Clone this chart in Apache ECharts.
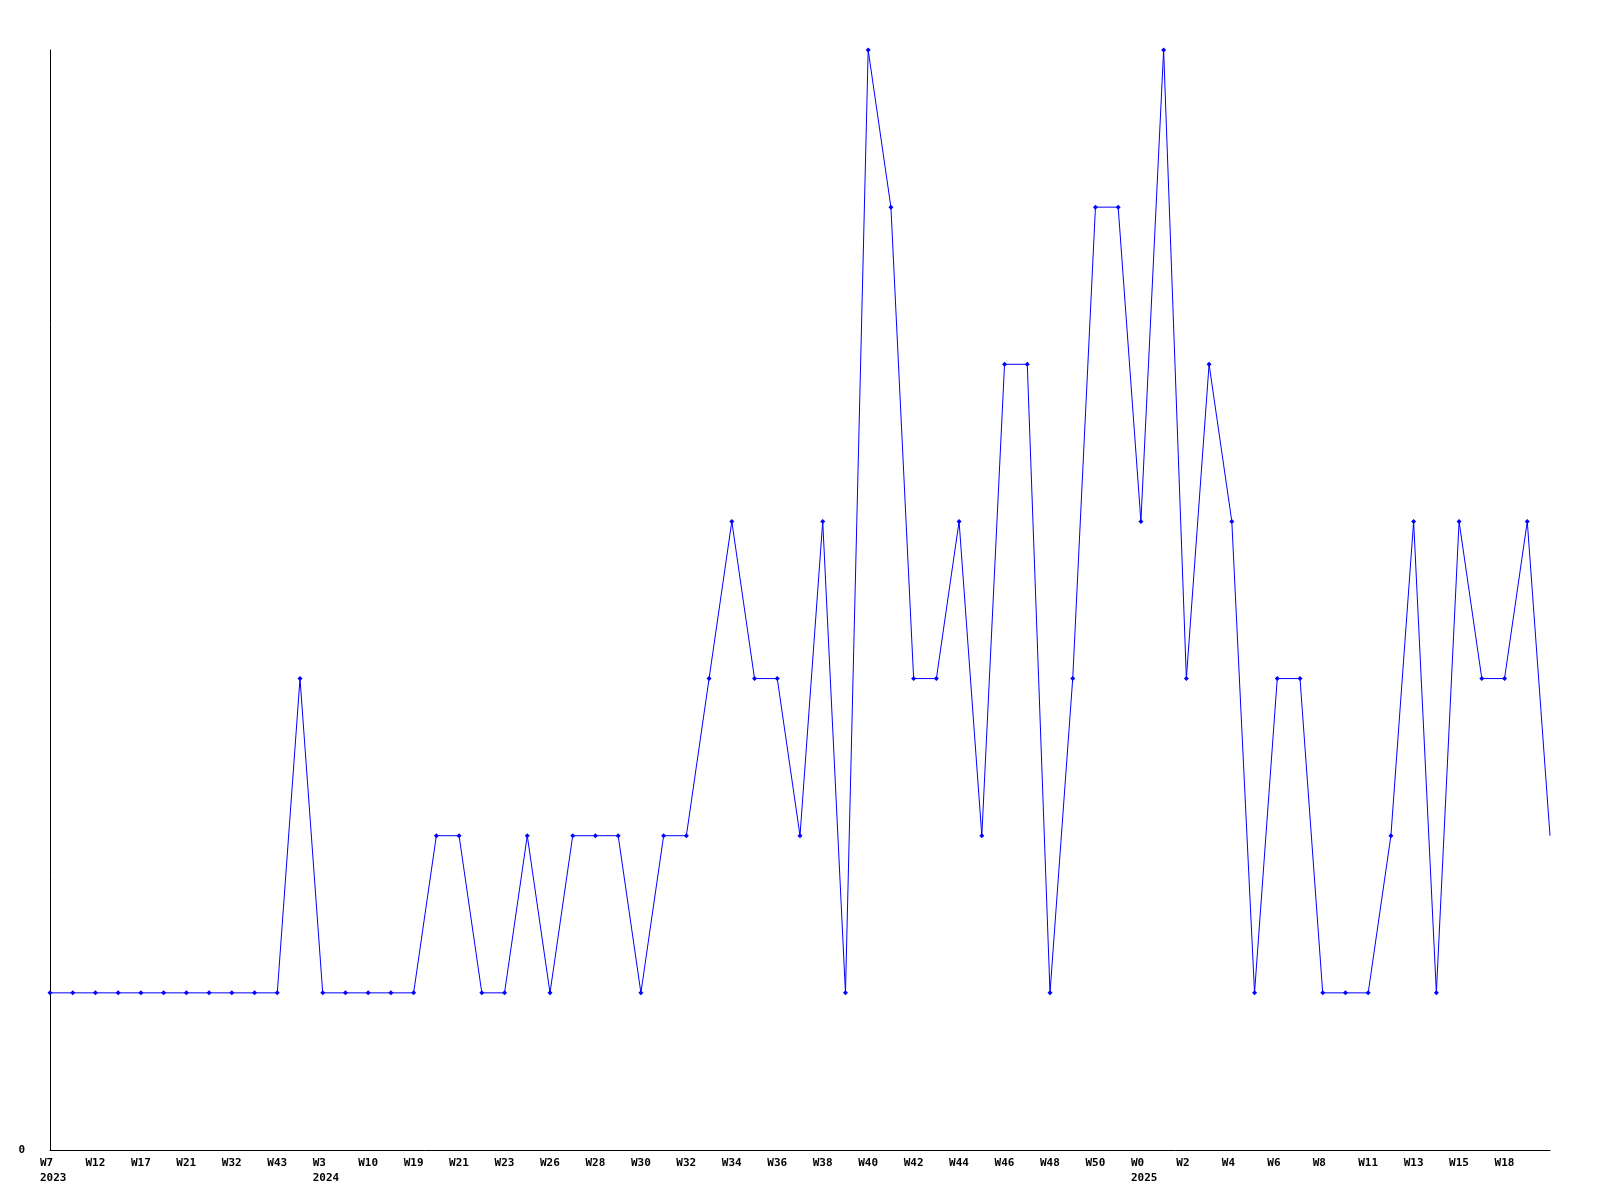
<!DOCTYPE html>
<html>
<head>
<meta charset="utf-8">
<script src="https://cdn.jsdelivr.net/npm/echarts@6/dist/echarts.min.js"></script>
<style>html,body{margin:0;padding:0;background:#fff}#c{width:1600px;height:1200px}</style>
</head>
<body>
<div id="c"></div>
<script>
// Week categories (odd positions are unlabeled in the reference)
const categories = [
  'W7\n2023','', 'W12','', 'W17','', 'W21','', 'W32','', 'W43','',
  'W3\n2024','', 'W10','', 'W19','', 'W21','', 'W23','', 'W26','', 'W28','',
  'W30','', 'W32','', 'W34','', 'W36','', 'W38','', 'W40','', 'W42','',
  'W44','', 'W46','', 'W48','', 'W50','', 'W0\n2025','', 'W2','', 'W4','',
  'W6','', 'W8','', 'W11','', 'W13','', 'W15','', 'W18','', ''
];
const values = [
  1,1,1,1,1,1,1,1,1,1,1,3,
  1,1,1,1,1,2,2,1,1,2,1,2,
  2,2,1,2,2,3,4,3,3,2,4,1,
  7,6,3,3,4,2,5,5,1,3,6,6,
  4,7,3,5,4,1,3,3,1,1,1,2,
  4,1,4,3,3,4,2
];
const yTickLabels = ['0'];

const chart = echarts.init(document.getElementById('c'), null, {renderer: 'canvas'});
const lastIdx = values.length - 1;
const seriesData = values.map((v, i) => i === lastIdx ? {value: v, symbol: 'none'} : v);

chart.setOption({
  backgroundColor: '#ffffff',
  animation: false,
  grid: {left: 50, right: 50, top: 50, bottom: 50, containLabel: false},
  xAxis: {
    type: 'category',
    data: categories,
    boundaryGap: false,
    axisLine: {lineStyle: {color: '#000', width: 1}},
    axisTick: {show: false},
    splitLine: {show: false},
    axisLabel: {
      interval: 0,
      margin: 6,
      align: 'center',
      verticalAlign: 'top',
      formatter: function (v) {
        if (!v) return '';
        return v.split('\n').map(s => '{a|' + s + '}').join('\n');
      },
      rich: {
        a: {
          width: 20, align: 'left', color: '#000',
          fontFamily: 'DejaVu Sans Mono', fontWeight: 'bold', fontSize: 11, lineHeight: 15
        }
      }
    }
  },
  yAxis: {
    type: 'value',
    min: 0,
    max: 7,
    interval: 7,
    axisLine: {show: true, lineStyle: {color: '#000', width: 1}},
    axisTick: {show: false},
    splitLine: {show: false},
    axisLabel: {
      margin: 25,
      color: '#000',
      fontFamily: 'DejaVu Sans Mono', fontWeight: 'bold', fontSize: 11,
      formatter: function (v) { return v === 0 ? yTickLabels[0] : ''; }
    }
  },
  series: [{
    type: 'line',
    data: seriesData,
    symbol: 'diamond',
    symbolSize: 5,
    showSymbol: true,
    lineStyle: {color: '#0000ff', width: 1},
    itemStyle: {color: '#0000ff'},
    clip: false
  }]
});
</script>
</body>
</html>
